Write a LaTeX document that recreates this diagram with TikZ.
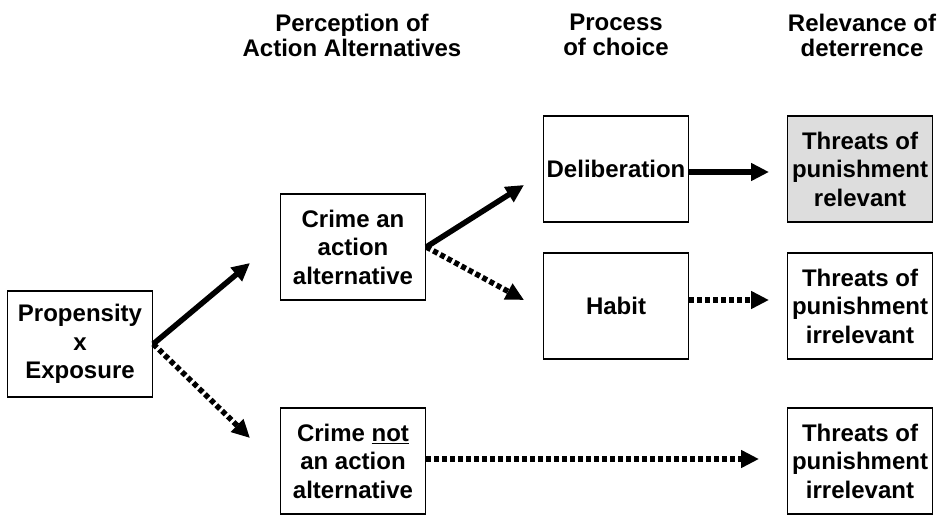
\documentclass[tikz,border=0pt]{standalone}
\usepackage{fontspec}
\setmainfont{Liberation Sans}
\usetikzlibrary{arrows.meta}
\definecolor{relgray}{RGB}{221,221,221}
\begin{document}
\begin{tikzpicture}[x=1pt,y=-1pt,
    every node/.style={font=\fontsize{24}{28.5}\selectfont\bfseries, align=center},
    box/.style={draw, line width=1.5pt, minimum width=145pt, minimum height=106pt, inner sep=0pt},
    head/.style={font=\fontsize{24}{25}\selectfont\bfseries},
    solidarrow/.style={line width=5.5pt, -{Triangle[length=18pt,width=17pt]}},
    dotarrow/.style={line width=5.5pt, dash pattern=on 5pt off 3pt, -{Triangle[length=18pt,width=17pt]}}]
    \useasboundingbox (0,0) rectangle (949,516);
    \node [head] (h1) at (352,35) {Perception of\\Action Alternatives};
    \node [head] (h2) at (616,35) {Process\\of choice};
    \node [head] (h3) at (862,35) {Relevance of\\deterrence};
    \node [box] (prop) at (80,344) {Propensity\\x\\Exposure};
    \node [box] (alt) at (353,247) {Crime an\\action\\alternative};
    \node [box] (notalt) at (353,461) {Crime \underline{not}\\an action\\alternative};
    \node [box] (delib) at (616,169) {Deliberation};
    \node [box] (habit) at (616,306) {Habit};
    \node [box, fill=relgray] (rel) at (860,169) {Threats of\\punishment\\relevant};
    \node [box] (irr) at (860,306) {Threats of\\punishment\\irrelevant};
    \node [box] (irrb) at (860,461) {Threats of\\punishment\\irrelevant};
    \coordinate (t1) at (250,263);
    \coordinate (t2) at (250,438);
    \coordinate (t3) at (524,185);
    \coordinate (t4) at (524,300);
    \coordinate (t5) at (769,172);
    \coordinate (t6) at (769,300);
    \coordinate (t7) at (759,459);
    \path [solidarrow] (prop.east) edge (t1);
    \path [dotarrow] (prop.east) edge (t2);
    \path [solidarrow] (alt.east) edge (t3);
    \path [dotarrow] (alt.east) edge (t4);
    \path [solidarrow] (delib.east |- t5) edge (t5);
    \path [dotarrow] (habit.east |- t6) edge (t6);
    \path [dotarrow] (notalt.east |- t7) edge (t7);
\end{tikzpicture}
\end{document}
